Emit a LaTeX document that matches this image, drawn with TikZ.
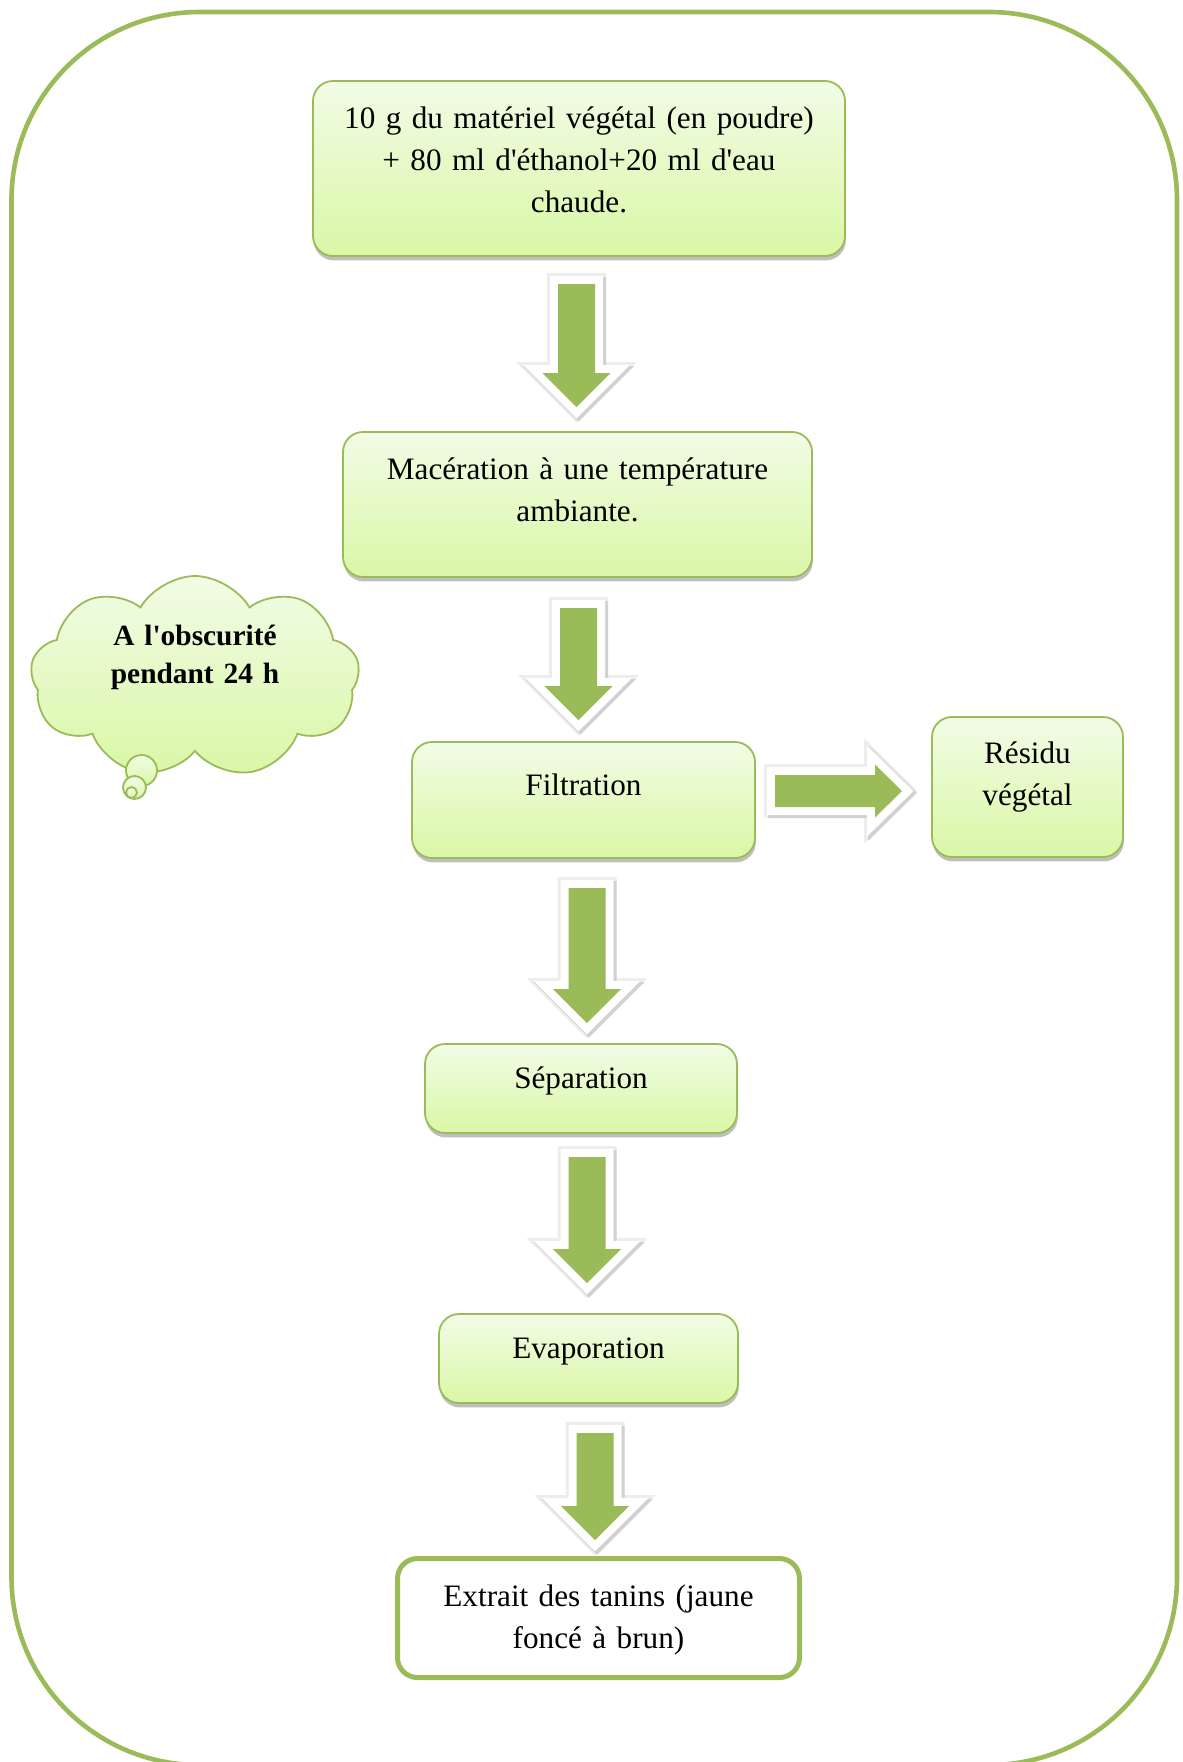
\documentclass[tikz,border=0pt]{standalone}
\usepackage{fontspec}
\setmainfont{Liberation Serif}
\usetikzlibrary{positioning,calc,shapes.symbols,shadows}

\definecolor{leaf}{HTML}{9BBB59}
\definecolor{paletop}{HTML}{F1FCE6}
\definecolor{palebot}{HTML}{DAF7A6}
\newcommand\ap{\textquotesingle}

% block arrow: tail, tip, half shaft, half head, head length
\newcommand\fatarrow[5]{%
  \coordinate (fa-t) at (#1);
  \coordinate (fa-h) at (#2);
  \coordinate (fa-b) at ($(fa-h)!#5!(fa-t)$);
  \path[fatbody] ($(fa-t)!#3!90:(fa-h)$) -- ($(fa-b)!#3!90:(fa-h)$) -- ($(fa-b)!#4!90:(fa-h)$) -- (fa-h)
    -- ($(fa-b)!#4!-90:(fa-h)$) -- ($(fa-b)!#3!-90:(fa-h)$) -- ($(fa-t)!#3!-90:(fa-h)$) -- cycle;
}

\begin{document}
\begin{tikzpicture}[
  x=0.5pt, y=-0.5pt,
  every node/.style={font=\fontsize{15.6pt}{21pt}\selectfont},
  stepbox/.style={draw=leaf, line width=0.9pt, rounded corners=10pt, top color=paletop, bottom color=palebot,
    align=center, inner sep=0pt, outer sep=0pt, text height=0pt, text depth=#1,
    drop shadow={shadow xshift=0.4pt, shadow yshift=-2.2pt, opacity=0.25, fill=black}},
  endbox/.style={draw=leaf, line width=2.5pt, rounded corners=10pt, fill=white,
    align=center, inner sep=0pt, outer sep=0pt, text height=0pt, text depth=#1},
  note/.style={cloud, cloud puffs=9, cloud puff arc=120, cloud ignores aspect, draw=leaf, line width=0.9pt,
    top color=paletop, bottom color=palebot, inner sep=0pt, align=center,
    font=\bfseries\fontsize{14.7pt}{19pt}\selectfont, text height=0pt, text depth=#1},
  bubble/.style={draw=leaf, line width=0.9pt, top color=paletop, bottom color=palebot},
  fatbody/.style={fill=leaf,
    preaction={draw=black!7, fill=black!7, line width=11pt, line join=miter},
    preaction={draw=black!18, fill=black!18, line width=9pt, line join=miter, transform canvas={xshift=1pt, yshift=-1pt}},
    preaction={draw=white, fill=white, line width=8pt, line join=miter}},
  frame/.style={draw=leaf, line width=2.3pt, rounded corners=94pt}
]
\useasboundingbox (0,0) rectangle (1183,1762);
\draw[frame] (11.5,12) rectangle (1177,1765);

\node[stepbox=40.5pt, minimum width=266pt, minimum height=87.5pt, text width=250pt] (b1) at (579,168.5)
  {10 g du matériel végétal (en poudre)\\+ 80 ml d\ap éthanol+20 ml d\ap eau\\chaude.};
\node[stepbox=25.5pt, minimum width=234.5pt, minimum height=72.5pt, text width=220pt, below=88pt of b1, xshift=-0.75pt] (b2)
  {Macération à une température\\ambiante.};
\node[stepbox=5pt, minimum width=171.5pt, minimum height=58pt, text width=150pt, below=82.5pt of b2, xshift=3pt] (b3) {Filtration};
\node[stepbox=0.5pt, minimum width=156pt, minimum height=44.5pt, text width=140pt, below=93pt of b3, xshift=-1.25pt] (b4) {Séparation};
\node[stepbox=0.5pt, minimum width=149.5pt, minimum height=44.5pt, text width=140pt, below=90.5pt of b4, xshift=3.75pt] (b5) {Evaporation};
\node[endbox=12pt, minimum width=201pt, minimum height=59.5pt, text width=190pt, below=77.75pt of b5, xshift=5pt] (b6)
  {Extrait des tanins (jaune\\foncé à brun)};
\node[stepbox=24pt, minimum width=95.5pt, minimum height=70pt, text width=80pt, right=88.5pt of b3, yshift=6.5pt] (r)
  {Résidu\\végétal};

% thought cloud
\node[note=32pt, minimum width=164.5pt, minimum height=101pt, text width=90pt] (cl) at (195,677)
  {A l\ap obscurité\\pendant 24 h};
\foreach \cx/\cy/\rr in {141.5/770.5/7.75pt, 134.5/787.5/5.75pt, 131.5/792.5/2.75pt}
  \draw[bubble] (\cx,\cy) circle[radius=\rr];

\foreach \a/\b/\u/\v/\p/\q in {b1/b2/-2.5/28/-1/-25, b2/b3/1/31/-5/-22, b3/b4/3.5/30/6/-21, b4/b5/6/24/-1.5/-31, b5/b6/6.5/30/-3.5/-18.5}
  {\fatarrow{$(\a.south)+(\u,\v)$}{$(\b.north)+(\p,\q)$}{9.25pt}{17pt}{17pt}}
\fatarrow{$(b3.east)+(20,-9)$}{$(r.west)+(-30,4)$}{8pt}{13.25pt}{13.5pt}
\end{tikzpicture}
\end{document}
